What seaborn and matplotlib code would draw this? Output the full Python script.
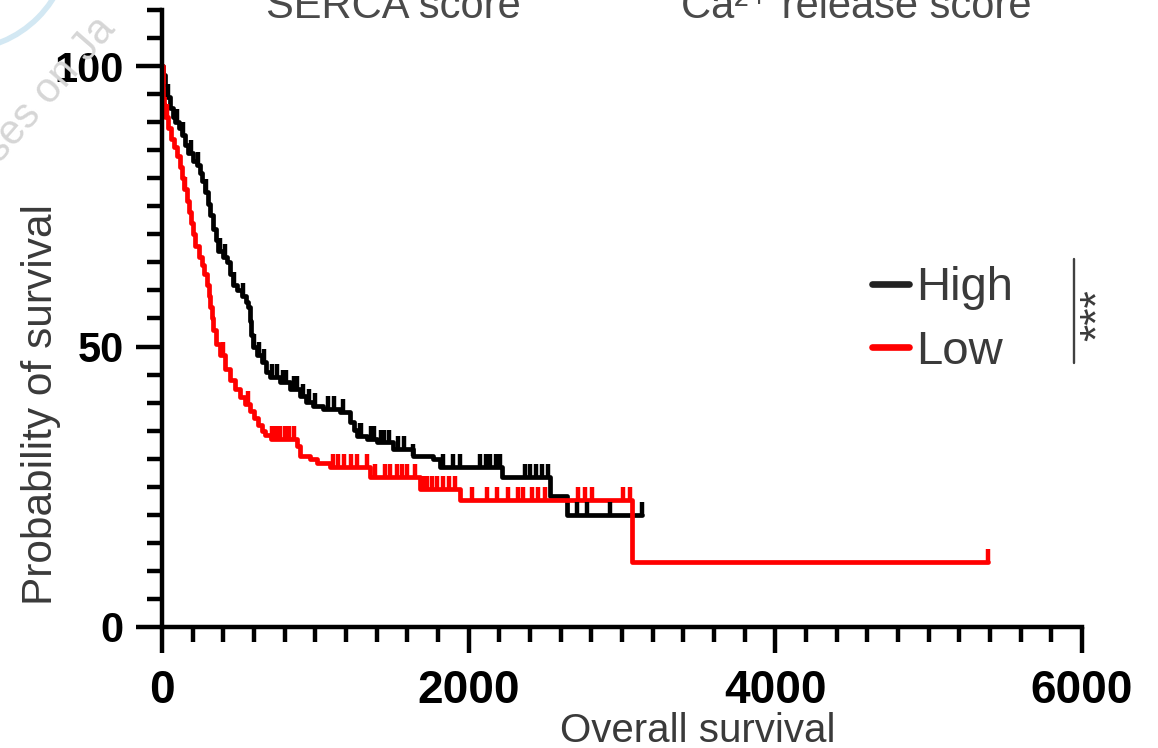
import numpy as np
import pandas as pd
import matplotlib
matplotlib.use("Agg")
import matplotlib.pyplot as plt
import seaborn as sns
from matplotlib.ticker import MultipleLocator, FixedLocator
from matplotlib import font_manager
from matplotlib.patches import Circle
from matplotlib.transforms import IdentityTransform

# ---------------- data ----------------
groups = ["High", "Low"]
group_colors = ["#000000", "#ff0000"]

high_time = [0, 8, 20, 35, 52, 70, 85, 110, 130, 150, 170, 200, 228, 245, 261, 280,
             300, 315, 333, 350, 365, 395, 424, 445, 463, 490, 522, 545, 561, 574,
             583, 593, 620, 652, 680, 704, 770, 835, 900, 940, 985, 1050, 1161, 1226,
             1250, 1272, 1337, 1402, 1507, 1637, 1767, 1813, 2217, 2530, 2641, 3130]
high_surv = [100, 98.5, 96.5, 94.5, 92.5, 91, 90, 89, 87.7, 86, 84.5, 83, 82.3, 81, 79.5, 77.5,
             75.5, 73.5, 71, 69, 67, 66, 65, 63, 61, 60, 59, 58, 57, 54.5,
             52, 50, 48.5, 47.2, 45.5, 44.5, 43.6, 42.4, 41.1, 40.2, 39.4, 38.8, 38.3, 36.5,
             35.2, 34.0, 33.5, 32.9, 31.7, 30.4, 29.9, 28.6, 26.7, 23.3, 20.0, 20.0]
high_censor = [40, 95, 140, 190, 235, 290, 380, 410, 470, 530, 600, 630, 665, 720, 750,
               790, 810, 860, 880, 920, 960, 1000, 1080, 1120, 1180, 1290, 1300, 1360,
               1380, 1430, 1450, 1480, 1540, 1580, 1637, 1830, 1898, 1943, 2074, 2110,
               2140, 2175, 2204, 2367, 2400, 2440, 2480, 2515, 2707, 2772, 2922, 3130]

low_time = [0, 5, 12, 20, 40, 60, 80, 100, 115, 130, 145, 160, 175, 190, 200, 215,
            240, 261, 277, 293, 305, 315, 325, 333, 355, 378, 410, 443, 475, 509, 540,
            574, 600, 626, 650, 672, 710, 880, 900, 965, 1011, 1096, 1357, 1683, 1943,
            3065, 5387]
low_surv = [100, 96, 93, 91, 89, 87, 85.5, 84, 82, 80, 78, 76, 74, 72, 70, 68,
            66, 64.5, 63, 61, 59, 57, 55, 53, 50.5, 48.5, 46, 44, 42.5, 41, 39.8,
            38.5, 37.2, 36, 35, 34.2, 33.5, 32.2, 30.4, 29.9, 29.3, 28.6, 26.7, 24.6, 22.7,
            11.6, 11.6]
low_censor = [30, 150, 400, 560, 720, 745, 770, 800, 830, 860, 1115, 1150, 1190, 1230,
              1272, 1337, 1389, 1454, 1490, 1533, 1565, 1600, 1650, 1700, 1730, 1760,
              1793, 1830, 1870, 1910, 2022, 2120, 2185, 2257, 2322, 2354, 2413, 2450,
              2498, 2713, 2760, 2804, 3007, 3052, 5387]

x_major = [0, 2000, 4000, 6000]
y_major = [0, 50, 100]
x_label = "Overall survival"
y_label = "Probability of survival"
panel_titles = ["SERCA score", "Ca\u00b2\u207a release score"]
signif = "***"

# ---------------- styling ----------------
sns.set_style("ticks")
plt.rcParams["font.family"] = ["Liberation Sans", "DejaVu Sans"]
names = {f.name for f in font_manager.fontManager.ttflist}
narrow = "Liberation Sans Narrow" if "Liberation Sans Narrow" in names else None
text_gray = "#3a3a3a"

fig = plt.figure(figsize=(11.58, 7.48), dpi=100)
ax = fig.add_axes([0.1399, 0.1618, 0.7945, 0.8248])

frames = []
for g, t, s in [("High", high_time, high_surv), ("Low", low_time, low_surv)]:
    frames.append(pd.DataFrame({"time": t, "survival": s, "group": g}))
df = pd.concat(frames, ignore_index=True)

sns.lineplot(data=df, x="time", y="survival", hue="group", hue_order=groups,
             palette=dict(zip(groups, group_colors)), estimator=None, sort=False,
             drawstyle="steps-post", linewidth=3.4, ax=ax, clip_on=False)


def step_at(times, surv, q):
    times = np.asarray(times)
    surv = np.asarray(surv)
    idx = np.searchsorted(times, np.asarray(q), side="right") - 1
    return surv[idx]


for cens, t, s, c in [(high_censor, high_time, high_surv, group_colors[0]),
                      (low_censor, low_time, low_surv, group_colors[1])]:
    yv = step_at(t, s, cens)
    ax.vlines(cens, yv, yv + 2.3, colors=c, linewidth=3.2, clip_on=False)

ax.set_xlim(0, 6000)
ax.set_ylim(0, 110)
sns.despine(ax=ax)
for sp in ["left", "bottom"]:
    ax.spines[sp].set_linewidth(3.2)
    ax.spines[sp].set_color("black")

ax.xaxis.set_major_locator(FixedLocator(x_major))
ax.yaxis.set_major_locator(FixedLocator(y_major))
ax.xaxis.set_minor_locator(MultipleLocator(200))
ax.yaxis.set_minor_locator(MultipleLocator(5))
ax.tick_params(axis="both", which="major", length=18.5, width=3.2, color="black")
ax.tick_params(axis="both", which="minor", length=11, width=3.2, color="black")
ax.tick_params(axis="x", which="major", pad=12)
ax.tick_params(axis="y", which="major", pad=9)

for lab in ax.get_yticklabels():
    lab.set_fontweight("bold")
    lab.set_fontsize(30)
    lab.set_color("black")
for lab in ax.get_xticklabels():
    lab.set_fontweight("bold")
    lab.set_color("black")
    if narrow:
        lab.set_family(narrow)
        lab.set_fontsize(39)
    else:
        lab.set_fontsize(33)

ax.set_xlabel(x_label, fontsize=29, color=text_gray)
ax.xaxis.set_label_coords(0.5826, -0.186)
ax.xaxis.label.set_va("baseline")
ax.set_ylabel(y_label, fontsize=30.5, color=text_gray)
ax.yaxis.set_label_coords(-0.131, 0.361)
ax.yaxis.label.set_va("center")

# legend
sns.move_legend(ax, "upper left", bbox_to_anchor=(0.772, 0.585), title=None,
                frameon=False, fontsize=34, handlelength=0.78, handletextpad=0.15,
                labelspacing=0.42, borderpad=0, borderaxespad=0)
leg = ax.get_legend()
for h, c in zip(leg.get_lines(), ["#222222", group_colors[1]]):
    h.set_linewidth(4.8)
    h.set_color(c)
for txt in leg.get_texts():
    txt.set_color(text_gray)

# significance bracket
ax.plot([0.9913, 0.9913], [0.428, 0.596], transform=ax.transAxes, color="#404040",
        linewidth=1.7, clip_on=False)
ax.text(0.9962, 0.506, signif, transform=ax.transAxes, rotation=90, ha="left",
        va="center", fontsize=32, color=text_gray)

# panel titles (cut off at the top, as in the source)
fig.text(393 / 1158, 1 - 18 / 748, panel_titles[0], ha="center", va="baseline",
         fontsize=30, color="#4a4a4a")
fig.text(856 / 1158, 1 - 18 / 748, panel_titles[1], ha="center", va="baseline",
         fontsize=30, color="#4a4a4a", family=["Liberation Sans", "DejaVu Sans"])

# faint watermark
circ = Circle((-40, 748 + 60), 110, transform=IdentityTransform(), fill=False,
              edgecolor="#d3e8f3", linewidth=4)
fig.add_artist(circ)
fig.text(0.0, 1 - 164 / 748, "ses on Ja", rotation=49, rotation_mode="anchor",
         ha="left", va="baseline", fontsize=30, color="#d6d6d6")

fig.savefig("out.png", dpi=100)
